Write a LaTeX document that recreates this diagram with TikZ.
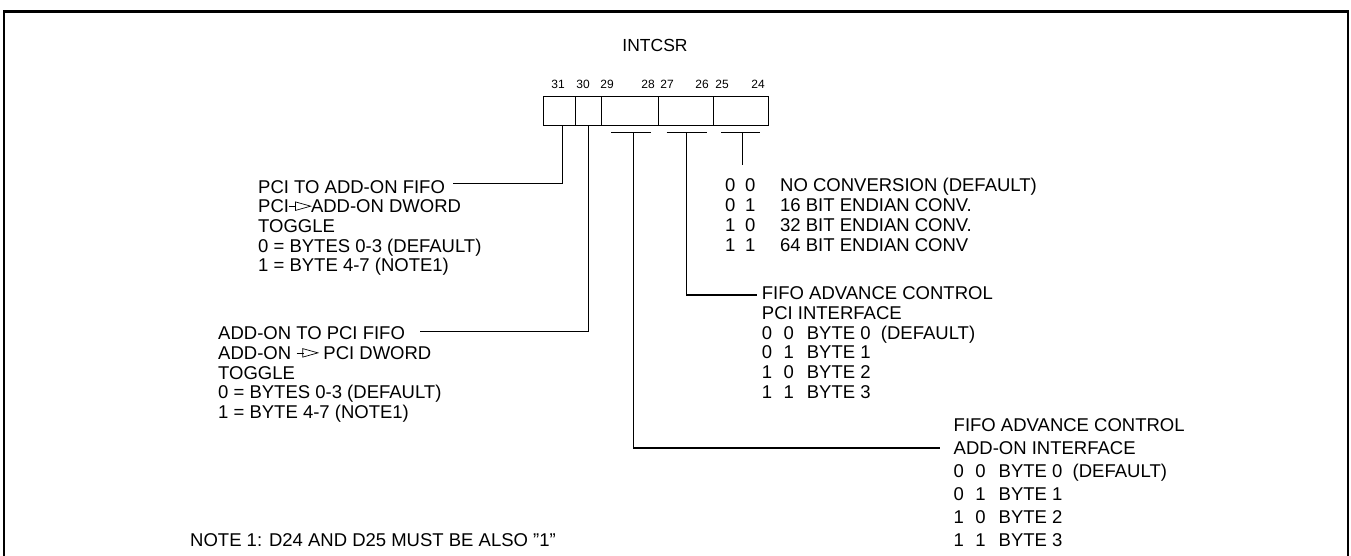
\documentclass[tikz,border=0pt]{standalone}
\usepackage{fontspec}
\setmainfont{Liberation Sans}
\newcommand\openarrow{\tikz[baseline=0pt,x=1em,y=1em,line width=0.7pt]{\draw (0,0.36)--(0.38,0.36); \draw (0.33,0.13)--(1.15,0.36)--(0.33,0.59)--cycle;}}
\newcommand\bitcols[3]{\makebox[21.7pt][l]{#1}\makebox[23.3pt][l]{#2}#3}
\tikzset{
  lbl/.style={inner sep=0pt, align=left, anchor=north west, font=\fontsize{18.5}{19.7}\selectfont},
  lblwide/.style={lbl, font=\fontsize{18.5}{23}\selectfont},
  bitno/.style={inner sep=0pt, anchor=base, font=\fontsize{12}{14}\selectfont},
  title/.style={inner sep=0pt, anchor=center, font=\fontsize{17.5}{19}\selectfont},
  wire/.style={line width=1.3pt},
  cell/.style={draw, line width=1.4pt, minimum height=29pt, inner sep=0pt, anchor=north west},
  frame/.style={line width=2.5pt}
}
\begin{document}
\begin{tikzpicture}[x=1pt,y=-1pt]
\useasboundingbox (0,0) rectangle (1351,555);
% outer frame (open at the bottom)
\draw[frame] (4,556) -- (4,11.5) -- (1348,11.5) -- (1348,556);

% register title and bit numbers
\node[title] (intcsr) at (655,45) {INTCSR};
\node[bitno] (n31) at (558,88) {31};
\node[bitno] (n30) at (583,88) {30};
\node[bitno] (n29) at (607,88) {29};
\node[bitno] (n28) at (648,88) {28};
\node[bitno] (n27) at (667,88) {27};
\node[bitno] (n26) at (702,88) {26};
\node[bitno] (n25) at (722,88) {25};
\node[bitno] (n24) at (758,88) {24};

% register cells
\node[cell, minimum width=32pt] (c31) at (543,96) {};
\node[cell, minimum width=26pt] (c30) at (575,96) {};
\node[cell, minimum width=57pt] (c29) at (601,96) {};
\node[cell, minimum width=55pt] (c27) at (658,96) {};
\node[cell, minimum width=55pt] (c25) at (713,96) {};

% description texts
\node[lbl] (l1) at (258,180) {PCI TO ADD-ON FIFO\\PCI\openarrow ADD-ON DWORD\\TOGGLE\\0 = BYTES 0-3 (DEFAULT)\\1 = BYTE 4-7 (NOTE1)};
\node[lbl] (l2) at (218,326.7) {ADD-ON TO PCI FIFO\\ADD-ON~\openarrow~PCI DWORD\\TOGGLE\\0 = BYTES 0-3 (DEFAULT)\\1 = BYTE 4-7 (NOTE1)};
\node[lbl] (r1) at (725,178.3) {\makebox[20pt][l]{0}\makebox[35pt][l]{0}NO CONVERSION (DEFAULT)\\
\makebox[20pt][l]{0}\makebox[35pt][l]{1}16 BIT ENDIAN CONV.\\
\makebox[20pt][l]{1}\makebox[35pt][l]{0}32 BIT ENDIAN CONV.\\
\makebox[20pt][l]{1}\makebox[35pt][l]{1}64 BIT ENDIAN CONV};
\node[lbl] (r2) at (761.7,286.6) {FIFO ADVANCE CONTROL\\PCI INTERFACE\\
\bitcols{0}{0}{BYTE 0\ \ (DEFAULT)}\\
\bitcols{0}{1}{BYTE 1}\\
\bitcols{1}{0}{BYTE 2}\\
\bitcols{1}{1}{BYTE 3}};
\node[lblwide] (r3) at (953.5,418.3) {FIFO ADVANCE CONTROL\\ADD-ON INTERFACE\\
\bitcols{0}{0}{BYTE 0\ \ (DEFAULT)}\\
\bitcols{0}{1}{BYTE 1}\\
\bitcols{1}{0}{BYTE 2}\\
\bitcols{1}{1}{BYTE 3}};
\node[lbl] (note) at (190,533.3) {NOTE 1: D24 AND D25 MUST BE ALSO "1"};

% connector end points
\coordinate (l1end) at (453,183.3);
\coordinate (l2end) at (420,331.5);
\coordinate (t29) at (633.3,132.3);
\coordinate (t27) at (686.7,132.3);
\coordinate (t25) at (742.7,132.3);
\coordinate (t25end) at (742.7,165);
\coordinate (r2end) at (757,295);
\coordinate (r3end) at (940,448);

% connectors
\draw[wire] ([xshift=2.7pt]c31.south) |- (l1end);
\draw[wire] (c30.south) |- (l2end);
\draw[wire] ([xshift=-22.3pt]t29) -- ([xshift=17.4pt]t29);
\draw[wire] ([xshift=-20pt]t27) -- ([xshift=20pt]t27);
\draw[wire] ([xshift=-21.7pt]t25) -- ([xshift=17.3pt]t25);
\draw[wire] (t29) |- (r3end);
\draw[wire] (t27) |- (r2end);
\draw[wire] (t25) -- (t25end);
\end{tikzpicture}
\end{document}
